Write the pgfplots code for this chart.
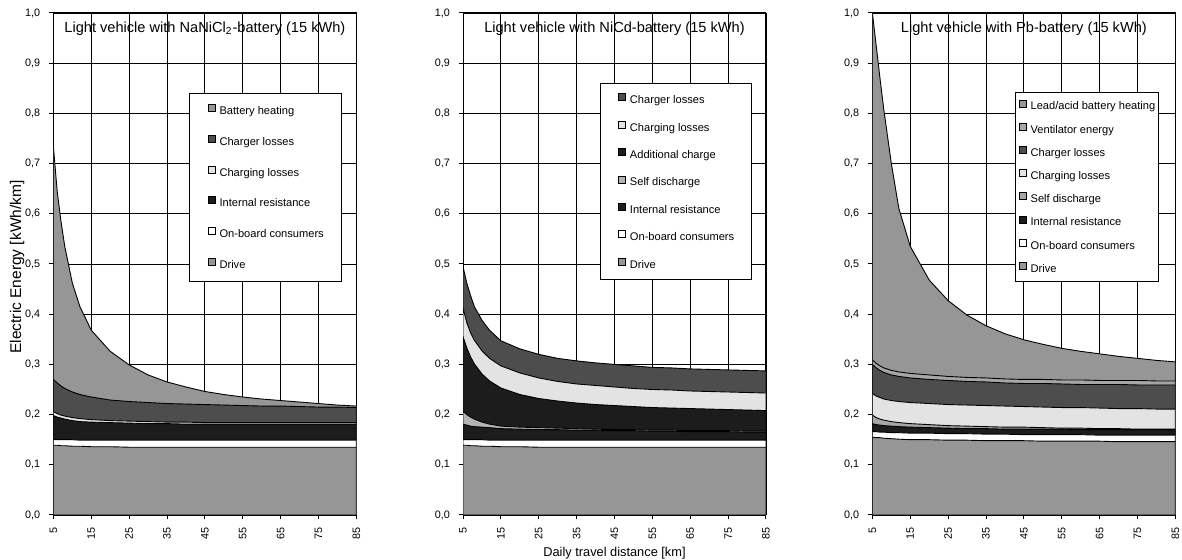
\documentclass[border=0pt]{standalone}
\usepackage{fontspec}
\setmainfont{Liberation Sans}
\usepackage{pgfplots}
\usepackage{pgfplotstable}
\pgfplotsset{compat=1.18}
\definecolor{cDrive}{HTML}{969696}
\definecolor{cHeat}{HTML}{969696}
\definecolor{cCharger}{HTML}{4D4D4D}
\definecolor{cCharging}{HTML}{E3E3E3}
\definecolor{cBlack}{HTML}{1C1C1C}
\definecolor{cSelf}{HTML}{B4B4B4}
\definecolor{cVent}{HTML}{A6A6A6}

\pgfplotstableread{
x T C G I O D
5 0.734 0.270 0.206 0.198 0.150 0.139
6 0.645 0.263 0.202 0.195 0.150 0.139
7 0.585 0.257 0.199 0.193 0.150 0.138
8 0.535 0.252 0.197 0.191 0.150 0.138
10 0.462 0.245 0.194 0.188 0.150 0.137
12 0.415 0.240 0.192 0.186 0.149 0.137
15 0.368 0.235 0.190 0.185 0.149 0.136
20 0.326 0.229 0.188 0.184 0.149 0.136
25 0.299 0.226 0.187 0.183 0.149 0.135
30 0.279 0.224 0.186 0.182 0.149 0.135
35 0.265 0.222 0.185 0.182 0.149 0.135
40 0.255 0.221 0.185 0.181 0.149 0.135
45 0.246 0.220 0.184 0.181 0.149 0.135
50 0.240 0.219 0.184 0.181 0.149 0.135
55 0.235 0.218 0.184 0.181 0.149 0.135
60 0.231 0.217 0.184 0.181 0.149 0.135
65 0.228 0.217 0.184 0.181 0.149 0.135
70 0.225 0.216 0.184 0.181 0.149 0.135
75 0.222 0.215 0.184 0.181 0.149 0.135
80 0.219 0.215 0.184 0.181 0.149 0.135
85 0.217 0.214 0.184 0.181 0.149 0.135
}\tabA

\pgfplotstableread{
x C G A S I O D
5 0.495 0.412 0.355 0.207 0.181 0.150 0.139
6 0.462 0.383 0.333 0.200 0.179 0.150 0.139
7 0.437 0.363 0.315 0.195 0.177 0.150 0.138
8 0.415 0.348 0.301 0.191 0.176 0.150 0.138
10 0.388 0.327 0.281 0.185 0.175 0.150 0.137
12 0.368 0.312 0.267 0.181 0.174 0.149 0.137
15 0.347 0.297 0.253 0.177 0.172 0.149 0.136
20 0.331 0.283 0.240 0.175 0.171 0.149 0.136
25 0.320 0.273 0.232 0.174 0.170 0.149 0.135
30 0.312 0.266 0.227 0.173 0.170 0.149 0.135
35 0.307 0.261 0.223 0.172 0.169 0.149 0.135
40 0.303 0.258 0.220 0.171 0.169 0.149 0.135
45 0.300 0.255 0.218 0.170 0.168 0.149 0.135
50 0.297 0.252 0.216 0.170 0.168 0.149 0.135
55 0.294 0.250 0.214 0.169 0.167 0.149 0.135
60 0.293 0.249 0.213 0.169 0.167 0.149 0.135
65 0.291 0.247 0.212 0.168 0.166 0.149 0.135
70 0.290 0.246 0.211 0.168 0.166 0.149 0.135
75 0.289 0.245 0.210 0.168 0.166 0.149 0.135
80 0.288 0.244 0.209 0.167 0.165 0.149 0.135
85 0.287 0.243 0.208 0.167 0.165 0.149 0.135
}\tabB

\pgfplotstableread{
x H V C G S I O D
5 1.000 0.309 0.300 0.242 0.199 0.182 0.166 0.155
6 0.935 0.302 0.293 0.237 0.194 0.180 0.166 0.154
7 0.870 0.297 0.288 0.234 0.191 0.179 0.165 0.154
8 0.808 0.293 0.284 0.231 0.189 0.178 0.165 0.153
10 0.700 0.288 0.279 0.228 0.186 0.177 0.164 0.152
12 0.610 0.285 0.276 0.226 0.184 0.176 0.164 0.151
15 0.535 0.282 0.273 0.224 0.182 0.175 0.163 0.150
20 0.468 0.279 0.270 0.222 0.180 0.174 0.163 0.150
25 0.427 0.276 0.268 0.220 0.178 0.173 0.162 0.149
30 0.398 0.274 0.266 0.219 0.177 0.172 0.162 0.149
35 0.377 0.273 0.265 0.218 0.176 0.172 0.161 0.148
40 0.361 0.271 0.263 0.217 0.175 0.171 0.161 0.148
45 0.349 0.270 0.262 0.216 0.175 0.171 0.160 0.148
50 0.340 0.270 0.262 0.215 0.174 0.171 0.160 0.147
55 0.332 0.269 0.261 0.214 0.173 0.171 0.160 0.147
60 0.326 0.269 0.260 0.214 0.173 0.170 0.160 0.147
65 0.321 0.268 0.260 0.213 0.172 0.170 0.159 0.147
70 0.316 0.268 0.260 0.212 0.172 0.170 0.159 0.146
75 0.312 0.268 0.259 0.212 0.171 0.170 0.159 0.146
80 0.308 0.267 0.259 0.211 0.171 0.170 0.159 0.146
85 0.305 0.267 0.259 0.211 0.171 0.170 0.159 0.146
}\tabC

\tikzset{ttl/.style={font=\fontsize{7.3}{8.5}\selectfont, anchor=base}}
\pgfplotsset{
  panel/.style={
    scale only axis, width=151.5pt, height=251pt,
    anchor=south west,
    xmin=5, xmax=85, ymin=0, ymax=1,
    xtick={5,15,25,35,45,55,65,75,85},
    ytick={0,0.1,0.2,0.3,0.4,0.5,0.6,0.7,0.8,0.9,1.0},
    grid=major, grid style={black, line width=0.45pt},
    axis line style={black, line width=0.5pt},
    tick align=outside, major tick length=2.2pt,
    tick style={black, line width=0.5pt},
    xtick pos=left, ytick pos=left,
    /pgf/number format/assume math mode=true,
    ticklabel style={font=\fontsize{5.4}{6}\selectfont},
    xticklabel style={rotate=90, anchor=east, inner sep=0pt, xshift=-4pt, yshift=0pt},
    yticklabel style={anchor=east, inner sep=0pt, xshift=-4.2pt,
      /pgf/number format/fixed, /pgf/number format/fixed zerofill,
      /pgf/number format/precision=1, /pgf/number format/use comma},
    legend image code/.code={\draw[#1, draw=black, line width=0.3pt] (0pt,0pt) rectangle (3.5pt,3.5pt);},
    legend cell align=left,
  },
  ar/.style={draw=black, line width=0.45pt, fill=#1},
}

\begin{document}
\begin{tikzpicture}
\useasboundingbox (0,0) rectangle (591pt,280pt);

% Panel 1
\begin{axis}[panel, at={(26.7pt,22.5pt)},
  ylabel={Electric Energy [kWh/km]},
  ylabel style={at={(axis description cs:-0.1066,0.494)}, anchor=base, font=\fontsize{7.75}{9}\selectfont},
  legend style={font=\fontsize{5.55}{6.5}\selectfont, draw=black, line width=0.5pt, fill=white,
    at={(0.449,0.841)}, anchor=north west, inner xsep=9pt, inner ysep=5.5pt,
    row sep=9.2pt, column sep=2pt, nodes={inner sep=0pt, text height=4pt, text depth=1pt}},
]
\addplot[ar=cHeat] table[x=x,y=T]{\tabA} \closedcycle; \addlegendentry{Battery heating}
\addplot[ar=cCharger] table[x=x,y=C]{\tabA} \closedcycle; \addlegendentry{Charger losses}
\addplot[ar=cCharging] table[x=x,y=G]{\tabA} \closedcycle; \addlegendentry{Charging losses}
\addplot[ar=cBlack] table[x=x,y=I]{\tabA} \closedcycle; \addlegendentry{Internal resistance}
\addplot[ar=white] table[x=x,y=O]{\tabA} \closedcycle; \addlegendentry{On-board consumers}
\addplot[ar=cDrive] table[x=x,y=D]{\tabA} \closedcycle; \addlegendentry{Drive}
\node[ttl] at (rel axis cs:0.5,0.9616) {Light vehicle with NaNiCl\textsubscript{2}-battery (15 kWh)};
\end{axis}

% Panel 2
\begin{axis}[panel, at={(231.5pt,22.5pt)},
  xlabel={Daily travel distance [km]},
  xlabel style={at={(axis description cs:0.5,-0.0817)}, anchor=base, font=\fontsize{6.4}{7.5}\selectfont},
  legend style={font=\fontsize{5.55}{6.5}\selectfont, draw=black, line width=0.5pt, fill=white,
    at={(0.453,0.860)}, anchor=north west, inner xsep=8.8pt, inner ysep=4.8pt,
    row sep=7.55pt, column sep=2pt, nodes={inner sep=0pt, text height=4pt, text depth=1pt}},
]
\addplot[ar=cCharger] table[x=x,y=C]{\tabB} \closedcycle; \addlegendentry{Charger losses}
\addplot[ar=cCharging] table[x=x,y=G]{\tabB} \closedcycle; \addlegendentry{Charging losses}
\addplot[ar=cBlack] table[x=x,y=A]{\tabB} \closedcycle; \addlegendentry{Additional charge}
\addplot[ar=cSelf] table[x=x,y=S]{\tabB} \closedcycle; \addlegendentry{Self discharge}
\addplot[ar=cBlack] table[x=x,y=I]{\tabB} \closedcycle; \addlegendentry{Internal resistance}
\addplot[ar=white] table[x=x,y=O]{\tabB} \closedcycle; \addlegendentry{On-board consumers}
\addplot[ar=cDrive] table[x=x,y=D]{\tabB} \closedcycle; \addlegendentry{Drive}
\node[ttl] at (rel axis cs:0.5,0.9616) {Light vehicle with NiCd-battery (15 kWh)};
\end{axis}

% Panel 3
\begin{axis}[panel, at={(436.2pt,22.5pt)},
  legend style={font=\fontsize{5.55}{6.5}\selectfont, draw=black, line width=0.5pt, fill=white,
    at={(0.471,0.842)}, anchor=north west, inner xsep=1.7pt, inner ysep=3.4pt,
    row sep=5.45pt, column sep=2pt, nodes={inner sep=0pt, text height=4pt, text depth=1pt}},
]
\addplot[ar=cHeat] table[x=x,y=H]{\tabC} \closedcycle; \addlegendentry{Lead/acid battery heating}
\addplot[ar=cVent] table[x=x,y=V]{\tabC} \closedcycle; \addlegendentry{Ventilator energy}
\addplot[ar=cCharger] table[x=x,y=C]{\tabC} \closedcycle; \addlegendentry{Charger losses}
\addplot[ar=cCharging] table[x=x,y=G]{\tabC} \closedcycle; \addlegendentry{Charging losses}
\addplot[ar=cVent] table[x=x,y=S]{\tabC} \closedcycle; \addlegendentry{Self discharge}
\addplot[ar=cBlack] table[x=x,y=I]{\tabC} \closedcycle; \addlegendentry{Internal resistance}
\addplot[ar=white] table[x=x,y=O]{\tabC} \closedcycle; \addlegendentry{On-board consumers}
\addplot[ar=cDrive] table[x=x,y=D]{\tabC} \closedcycle; \addlegendentry{Drive}
\node[ttl] at (rel axis cs:0.5,0.9616) {Light vehicle with Pb-battery (15 kWh)};
\end{axis}
\end{tikzpicture}
\end{document}
